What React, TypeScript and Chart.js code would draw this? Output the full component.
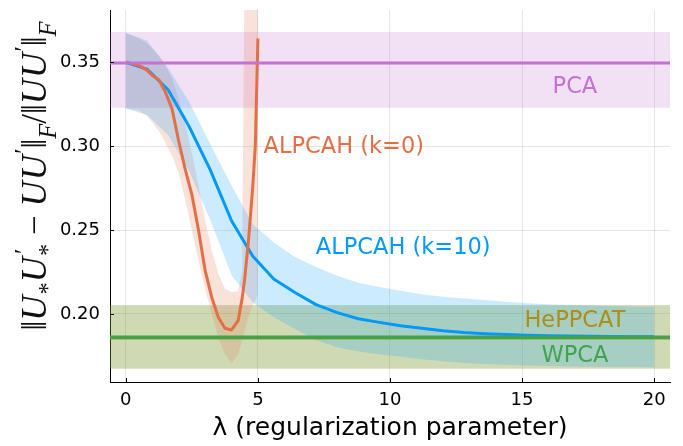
import React, { useEffect, useRef } from 'react';
import { Chart, registerables } from 'chart.js';

Chart.register(...registerables);

// ---- axes ----
const X_MIN = -0.6;
const X_MAX = 20.6;
const Y_MIN = 0.1595;
const Y_MAX = 0.381;
const xTicks = [0, 5, 10, 15, 20];
const yTicks = [0.2, 0.25, 0.3, 0.35];

// ---- ALPCAH (k=0) ----
const k0Lambda = [0, 0.5, 0.8, 1.0, 1.25, 1.5, 1.75, 2.0, 2.25, 2.5, 2.75, 3.0, 3.25, 3.5, 3.75, 4.0, 4.25, 4.4, 4.5, 4.65, 4.8, 4.9, 5.0];
const k0Mean = [0.35, 0.348, 0.3452, 0.342, 0.3395, 0.332, 0.322, 0.303, 0.286, 0.271, 0.25, 0.226, 0.21, 0.198, 0.1915, 0.1905, 0.196, 0.209, 0.221, 0.245, 0.275, 0.3, 0.364];
const k0Lower = [0.3225, 0.321, 0.318, 0.314, 0.309, 0.302, 0.294, 0.284, 0.268, 0.25, 0.232, 0.215, 0.2, 0.186, 0.176, 0.1705, 0.176, 0.184, 0.19, 0.199, 0.205, 0.208, 0.212];
const k0Upper = [0.367, 0.364, 0.361, 0.358, 0.354, 0.348, 0.34, 0.328, 0.313, 0.296, 0.276, 0.256, 0.238, 0.224, 0.215, 0.213, 0.2135, 0.225, 0.42, 0.55, 0.6, 0.62, 0.64];

// ---- ALPCAH (k=10) ----
const k10Lambda = [0, 0.8, 1.6, 2.4, 3.2, 4.0, 4.8, 5.6, 6.4, 7.2, 8.0, 8.8, 9.6, 10.4, 11.2, 12.0, 12.8, 13.6, 14.4, 15.2, 16.0, 16.8, 17.6, 18.4, 19.2, 20.0];
const k10Mean = [0.3498, 0.3458, 0.3335, 0.3115, 0.2857, 0.2555, 0.2345, 0.2208, 0.2128, 0.2056, 0.2008, 0.1972, 0.195, 0.193, 0.1915, 0.19, 0.189, 0.1883, 0.1878, 0.1874, 0.1871, 0.1869, 0.1867, 0.1866, 0.1865, 0.1865];
const k10Upper = [0.3674, 0.3628, 0.3465, 0.3262, 0.301, 0.2765, 0.2535, 0.2425, 0.234, 0.228, 0.2228, 0.2186, 0.216, 0.2138, 0.2118, 0.2102, 0.2092, 0.2083, 0.2073, 0.2064, 0.2058, 0.2054, 0.205, 0.2047, 0.2045, 0.2043];
const k10Lower = [0.3224, 0.3185, 0.3065, 0.285, 0.256, 0.223, 0.207, 0.198, 0.191, 0.1845, 0.1802, 0.1777, 0.176, 0.1745, 0.173, 0.1718, 0.1708, 0.1702, 0.1697, 0.1693, 0.169, 0.1688, 0.1686, 0.1685, 0.1684, 0.1683];

// ---- horizontal baselines (span the whole x range) ----
const spanLambda = [X_MIN, X_MAX];
const pcaMean = 0.3495;
const pcaLower = 0.3228;
const pcaUpper = 0.3679;
const heppcatMean = 0.1857;
const heppcatLower = 0.1676;
const heppcatUpper = 0.2052;
const wpcaMean = 0.1861;
const wpcaLower = 0.1674;
const wpcaUpper = 0.2054;

// ---- in-plot labels ----
const labelText = ['PCA', 'ALPCAH (k=0)', 'ALPCAH (k=10)', 'HePPCAT', 'WPCA'];
const labelX = [17, 8.25, 10.5, 17, 17];
const labelY = [0.3348, 0.2991, 0.2393, 0.1958, 0.175];

const BLUE = '#009AFA';
const ORANGE = '#E36F47';
const GREEN = '#3EA44E';
const PURPLE = '#C371D2';
const OLIVE = '#AC8E18';
const labelColor = [PURPLE, ORANGE, BLUE, OLIVE, GREEN];

const xTitle = 'λ (regularization parameter)';

function rgba(hex: string, a: number) {
  const n = parseInt(hex.slice(1), 16);
  return `rgba(${(n >> 16) & 255},${(n >> 8) & 255},${n & 255},${a})`;
}

function pts(xs: number[], ys: number[]) {
  return xs.map((x, i) => ({ x, y: ys[i] }));
}

function flat(v: number) {
  return spanLambda.map((x) => ({ x, y: v }));
}

type Seg = { t: string; it?: boolean; s?: 'sub' | 'sup'; sup?: string };
const yTitleSegs: Seg[] = [
  { t: '‖' },
  { t: 'U', it: true },
  { t: '*', s: 'sub' },
  { t: 'U', it: true },
  { t: '*', s: 'sub', sup: '′' },
  { t: ' − ' },
  { t: 'U', it: true },
  { t: 'U', it: true },
  { t: '′', s: 'sup' },
  { t: '‖' },
  { t: 'F', it: true, s: 'sub' },
  { t: '/' },
  { t: '‖' },
  { t: 'U', it: true },
  { t: 'U', it: true },
  { t: '′', s: 'sup' },
  { t: '‖' },
  { t: 'F', it: true, s: 'sub' },
];

const overlayPlugin = {
  id: 'overlay',
  afterDraw(chart: any) {
    const { ctx, chartArea: ca, scales } = chart;
    const x = scales.x;
    const y = scales.y;
    ctx.save();
    // inward tick marks
    ctx.strokeStyle = '#000';
    ctx.lineWidth = 1;
    ctx.beginPath();
    for (const t of xTicks) {
      const px = Math.round(x.getPixelForValue(t)) + 0.5;
      ctx.moveTo(px, ca.bottom);
      ctx.lineTo(px, ca.bottom - 4);
    }
    for (const t of yTicks) {
      const py = Math.round(y.getPixelForValue(t)) + 0.5;
      ctx.moveTo(ca.left, py);
      ctx.lineTo(ca.left + 4, py);
    }
    ctx.stroke();

    // annotations
    ctx.font = '22.5px "DejaVu Sans"';
    ctx.textAlign = 'center';
    ctx.textBaseline = 'middle';
    labelText.forEach((t, i) => {
      ctx.fillStyle = labelColor[i];
      ctx.fillText(t, x.getPixelForValue(labelX[i]), y.getPixelForValue(labelY[i]));
    });

    // y-axis title (math)
    const base = 35;
    const fontFor = (seg: Seg, size: number) =>
      `${seg.it ? 'italic ' : ''}${size}px "Liberation Serif", "DejaVu Serif", serif`;
    const items = yTitleSegs.map((seg) => {
      const size = seg.s ? base * 0.7 : base;
      ctx.font = fontFor(seg, size);
      const w = ctx.measureText(seg.t).width;
      let w2 = 0;
      if (seg.sup) {
        ctx.font = fontFor({ t: seg.sup }, base * 0.7);
        w2 = ctx.measureText(seg.sup).width;
      }
      return { seg, size, w: Math.max(w, w2) + (seg.it && !seg.s ? 1 : 0) };
    });
    const total = items.reduce((a, b) => a + b.w, 0);
    const cy = 176;
    const bx = 46;
    ctx.translate(bx, cy);
    ctx.rotate(-Math.PI / 2);
    ctx.fillStyle = '#111';
    ctx.textAlign = 'left';
    ctx.textBaseline = 'alphabetic';
    let cx = -total / 2;
    for (const it of items) {
      const { seg, size } = it;
      ctx.font = fontFor(seg, size);
      const dy = seg.s === 'sub' ? base * 0.28 : seg.s === 'sup' ? -base * 0.4 : 0;
      ctx.fillText(seg.t, cx, dy);
      if (seg.sup) {
        ctx.font = fontFor({ t: seg.sup }, base * 0.7);
        ctx.fillText(seg.sup, cx + 2, -base * 0.4);
      }
      cx += it.w;
    }
    ctx.restore();
  },
};

export default function App() {
  const ref = useRef<HTMLCanvasElement | null>(null);
  useEffect(() => {
    if (!ref.current) return;
    const band = (data: any[], color: string, target?: number) => ({
      data,
      borderColor: 'transparent',
      borderWidth: 0,
      pointRadius: 0,
      backgroundColor: color,
      fill: target === undefined ? false : target,
      tension: 0,
    });
    const line = (data: any[], color: string, w = 3) => ({
      data,
      borderColor: color,
      borderWidth: w,
      pointRadius: 0,
      fill: false,
      tension: 0,
      borderJoinStyle: 'round',
      borderCapStyle: 'butt',
    });
    const datasets: any[] = [
      line(flat(wpcaMean), GREEN, 3.5), // 0
      line(flat(heppcatMean), OLIVE, 3), // 1
      line(flat(pcaMean), PURPLE, 3), // 2
      line(pts(k0Lambda, k0Mean), ORANGE, 3), // 3
      line(pts(k10Lambda, k10Mean), BLUE, 3), // 4
      band(pts(k10Lambda, k10Lower), 'transparent'), // 5
      band(pts(k10Lambda, k10Upper), rgba(BLUE, 0.2), 5), // 6
      band(pts(k0Lambda, k0Lower), 'transparent'), // 7
      band(pts(k0Lambda, k0Upper), rgba(ORANGE, 0.2), 7), // 8
      band(flat(pcaLower), 'transparent'), // 9
      band(flat(pcaUpper), rgba(PURPLE, 0.22), 9), // 10
      band(flat(heppcatLower), 'transparent'), // 11
      band(flat(heppcatUpper), rgba(OLIVE, 0.2), 11), // 12
      band(flat(wpcaLower), 'transparent'), // 13
      band(flat(wpcaUpper), rgba(GREEN, 0.2), 13), // 14
    ];
    const tickFont = { family: '"DejaVu Sans"', size: 18 };
    const zeroPad = (s: any) => {
      s.paddingTop = 0;
      s.paddingBottom = 0;
      s.paddingLeft = 0;
      s.paddingRight = 0;
    };
    const chart = new Chart(ref.current, {
      type: 'line',
      data: { datasets },
      options: {
        animation: false,
        responsive: false,
        devicePixelRatio: 1,
        layout: { padding: { top: 10, right: 13, left: 0, bottom: 0 } },
        plugins: { legend: { display: false }, tooltip: { enabled: false } },
        scales: {
          x: {
            type: 'linear',
            min: X_MIN,
            max: X_MAX,
            afterBuildTicks: (s: any) => {
              s.ticks = xTicks.map((v) => ({ value: v }));
            },
            afterFit: (s: any) => {
              s.height = 64;
              zeroPad(s);
            },
            ticks: { font: tickFont, color: '#000', padding: 8, maxRotation: 0, autoSkip: false },
            grid: { color: 'rgba(0,0,0,0.1)', lineWidth: 1, drawTicks: false },
            border: { display: true, color: '#000', width: 1 },
            title: {
              display: true,
              text: xTitle,
              font: { family: '"DejaVu Sans"', size: 25 },
              color: '#000',
              padding: { top: 0, bottom: 3 },
            },
          },
          y: {
            type: 'linear',
            min: Y_MIN,
            max: Y_MAX,
            afterBuildTicks: (s: any) => {
              s.ticks = yTicks.map((v) => ({ value: v }));
            },
            afterFit: (s: any) => {
              s.width = 110;
              zeroPad(s);
            },
            ticks: {
              font: tickFont,
              color: '#000',
              padding: 10,
              callback: (v: any) => Number(v).toFixed(2),
            },
            grid: { color: 'rgba(0,0,0,0.1)', lineWidth: 1, drawTicks: false },
            border: { display: true, color: '#000', width: 1 },
          },
        },
      },
      plugins: [overlayPlugin],
    });
    return () => chart.destroy();
  }, []);
  return (
    <div style={{ position: 'fixed', left: 0, top: 0, width: 683, height: 446, background: '#fff' }}>
      <canvas ref={ref} width={683} height={446} />
    </div>
  );
}
